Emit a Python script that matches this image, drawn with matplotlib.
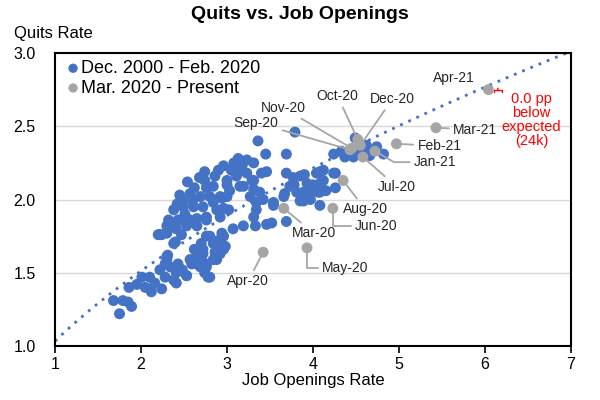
import matplotlib
matplotlib.use("Agg")
import matplotlib.pyplot as plt
import numpy as np

plt.rcParams['font.family'] = ['Liberation Sans', 'DejaVu Sans']

# Pre-pandemic (Dec. 2000 - Feb. 2020): job openings rate, quits rate
pre_jo = [1.75, 1.68, 1.85, 1.89, 1.79, 1.86, 1.95, 2.01, 2.12, 2.16, 2.24, 2.28, 2.22, 2.30, 2.34,
          2.43, 2.38, 2.41, 2.53, 2.31, 2.20, 2.30, 2.40, 2.47, 2.65, 2.69, 2.76, 2.80, 2.65, 2.84,
          2.92, 2.80, 2.90, 2.98, 2.94, 2.72, 2.59,
          3.79, 3.36, 3.45, 3.69, 3.13, 3.23, 3.31, 2.96, 2.74, 3.07, 3.23, 3.40, 3.46, 2.54, 2.74,
          2.84, 3.00, 3.11, 3.31, 3.38, 3.19, 3.03, 2.45, 2.57, 2.69, 2.80, 2.94, 2.38, 2.49, 2.61,
          2.72, 2.84, 2.96, 2.51, 2.65, 2.76, 2.32, 2.30, 2.24, 2.41, 2.53, 2.38, 2.36, 2.43,
          3.05, 3.15, 3.29, 3.15, 3.00, 2.76, 3.00, 2.92, 2.88, 3.02, 2.92, 3.27, 3.31, 2.57, 2.45,
          2.65, 2.76, 2.22,
          3.34, 3.54, 3.42, 3.31, 3.34, 3.19, 3.07, 2.96, 3.46, 3.52, 3.33, 2.76, 2.88, 2.96, 2.72,
          2.65, 2.76, 2.88, 2.78, 2.57, 2.30, 2.41, 2.53,
          3.69, 3.77, 3.85, 3.93, 3.73, 3.81, 3.97, 4.08, 4.08, 4.12, 4.26, 4.26, 4.24, 3.66, 3.89,
          4.08, 3.69, 4.33, 4.49, 4.62, 4.74, 4.82, 4.66, 4.47, 4.37, 4.04, 4.12, 4.24, 4.08, 4.06,
          3.89, 3.67, 3.85, 3.97, 3.54, 4.55, 4.60, 4.70,
          2.62, 2.70, 2.84, 2.86, 2.74, 2.70, 2.50, 2.62, 2.68, 2.86, 2.90, 3.08, 3.18, 2.60, 2.42,
          2.05, 2.10, 2.28, 2.48, 3.90, 4.00, 4.15, 3.78]
pre_qr = [1.22, 1.31, 1.30, 1.27, 1.31, 1.40, 1.42, 1.47, 1.37, 1.43, 1.39, 1.47, 1.52, 1.59, 1.54,
          1.56, 1.45, 1.43, 1.48, 1.62, 1.76, 1.77, 1.71, 1.76, 1.59, 1.54, 1.56, 1.47, 1.62, 1.59,
          1.63, 1.75, 1.72, 1.68, 1.77, 1.66, 1.56,
          2.46, 2.40, 2.31, 2.31, 2.28, 2.27, 2.25, 2.23, 2.19, 2.20, 2.18, 2.18, 2.19, 2.12, 2.13,
          2.09, 2.13, 2.16, 2.13, 2.05, 2.09, 2.06, 2.03, 2.04, 2.02, 2.02, 2.01, 1.93, 1.95, 1.95,
          1.95, 1.98, 1.94, 1.90, 1.87, 1.88, 1.86, 1.82, 1.76, 1.80, 1.82, 1.70, 1.83, 1.86,
          2.20, 2.20, 2.13, 2.09, 2.10, 2.08, 2.02, 2.02, 1.93, 1.93, 1.88, 2.02, 2.07, 1.86, 1.86,
          1.82, 1.86, 1.76,
          1.98, 1.96, 2.00, 1.88, 1.93, 1.82, 1.80, 1.75, 1.83, 1.84, 1.82, 1.75, 1.68, 1.66, 1.63,
          1.56, 1.54, 1.59, 1.47, 1.59, 1.61, 1.50, 1.48,
          2.18, 2.15, 2.16, 2.11, 2.09, 2.05, 2.05, 2.05, 2.19, 2.13, 2.18, 2.08, 2.31, 2.02, 1.99,
          1.96, 1.85, 2.33, 2.42, 2.37, 2.36, 2.31, 2.30, 2.29, 2.29, 2.18, 2.20, 2.18, 2.11, 2.05,
          2.05, 2.04, 1.99, 2.00, 1.98, 2.34, 2.32, 2.33,
          1.66, 1.70, 1.70, 1.64, 1.50, 1.60, 2.00, 2.08, 2.15, 2.16, 2.20, 2.25, 2.24, 1.99, 1.97,
          1.40, 1.47, 1.56, 1.52, 2.17, 2.10, 2.06, 2.10]

# Mar. 2020 - Present
post_labels = ["Mar-20", "Apr-20", "May-20", "Jun-20", "Jul-20", "Aug-20", "Sep-20", "Oct-20",
               "Nov-20", "Dec-20", "Jan-21", "Feb-21", "Mar-21", "Apr-21"]
post_jo = [3.66, 3.42, 3.93, 4.23, 4.58, 4.35, 4.43, 4.52, 4.45, 4.55, 4.72, 4.97, 5.43, 6.04]
post_qr = [1.94, 1.64, 1.67, 1.94, 2.29, 2.13, 2.34, 2.41, 2.35, 2.37, 2.33, 2.38, 2.49, 2.75]

# fitted (log-log) relationship: quits = coef * openings ** power
fit_coef = 1.033
fit_power = 0.55

BLUE = "#4472C4"
GRAY = "#A5A5A5"
LGRAY = "#A6A6A6"

fig = plt.figure(figsize=(6, 4), dpi=100)
ax = fig.add_axes([0.0917, 0.135, 0.86, 0.7325])

ax.set_xlim(1, 7)
ax.set_ylim(1.0, 3.0)
ax.set_xticks(range(1, 8))
ax.set_yticks([1.0, 1.5, 2.0, 2.5, 3.0])
ax.set_yticklabels(["1.0", "1.5", "2.0", "2.5", "3.0"])
ax.yaxis.grid(True, color="#D9D9D9", lw=1)
ax.set_axisbelow(True)
for s in ax.spines.values():
    s.set_color("black")
    s.set_linewidth(1.5)
ax.tick_params(axis='x', direction='out', length=5, width=1.2, labelsize=11.5, pad=3)
ax.tick_params(axis='y', length=0, labelsize=11.5, pad=14)

xs = np.linspace(1, 7, 200)
ax.plot(xs, fit_coef * xs ** fit_power, linestyle=(0, (1, 2.2)), color=BLUE, lw=2, zorder=2,
        clip_on=True)

ax.scatter(pre_jo, pre_qr, s=62, color=BLUE, edgecolors='none', zorder=3,
           label="Dec. 2000 - Feb. 2020")
ax.scatter(post_jo, post_qr, s=62, color=GRAY, edgecolors='none', zorder=4,
           label="Mar. 2020 - Present")

# label offsets (pixels): dx, dy, ha, connection style
offsets = {
    "Mar-20": (30, -25, 'center', None),
    "Apr-20": (-15, -29, 'center', None),
    "May-20": (15, -20, 'left', "angle,angleA=0,angleB=90,rad=0"),
    "Jun-20": (22, -18, 'left', "angle,angleA=0,angleB=90,rad=0"),
    "Jul-20": (34, -30, 'center', None),
    "Aug-20": (22, -29, 'center', None),
    "Sep-20": (-94, 27, 'center', None),
    "Oct-20": (-20, 43, 'center', None),
    "Nov-20": (-68, 40, 'center', None),
    "Dec-20": (32, 46, 'center', None),
    "Jan-21": (39, -11, 'left', "angle,angleA=0,angleB=-30,rad=0"),
    "Feb-21": (21, -2, 'left', None),
    "Mar-21": (17, -2, 'left', None),
    "Apr-21": (-35, 12, 'center', None),
}
for lab, x, y in zip(post_labels, post_jo, post_qr):
    dx, dy, ha, cs = offsets[lab]
    if lab == "Apr-21":
        ax.annotate(lab, xy=(x, y), xytext=(dx, dy), textcoords='offset pixels',
                    ha=ha, va='center', fontsize=10, color='#262626')
        continue
    ap = dict(arrowstyle='-', color=LGRAY, lw=1.3, shrinkA=1, shrinkB=3)
    if cs:
        ap['connectionstyle'] = cs
    ax.annotate(lab, xy=(x, y), xytext=(dx, dy), textcoords='offset pixels',
                ha=ha, va='center', fontsize=10, color='#262626', arrowprops=ap, zorder=5)

# bracket between Apr-21 and expected value
ax_x = post_jo[-1]
expected = fit_coef * ax_x ** fit_power
ax.annotate("", xy=(ax_x + 0.11, post_qr[-1] - 0.02), xytext=(ax_x + 0.11, expected),
            arrowprops=dict(arrowstyle='-[, widthB=0.3, lengthB=0.15', color='red', lw=1))
ax.annotate("0.0 pp\nbelow\nexpected\n(24k)", xy=(ax_x, post_qr[-1]), xytext=(43, -30),
            textcoords='offset pixels', ha='center', va='center', fontsize=10.5,
            color='red', linespacing=1.0)

ax.legend(loc='upper left', bbox_to_anchor=(0.0, 1.01), frameon=False, fontsize=13,
          handletextpad=0.0, markerscale=0.85, borderaxespad=0.25, labelspacing=0.15,
          handlelength=0.9, borderpad=0.3)

ax.set_xlabel("Job Openings Rate", fontsize=12, labelpad=1)
fig.text(0.5, 0.963, "Quits vs. Job Openings", ha='center', va='center', fontsize=14,
         fontweight='bold')
fig.text(0.023, 0.917, "Quits Rate", ha='left', va='center', fontsize=12)

fig.savefig("out.png", dpi=100)
